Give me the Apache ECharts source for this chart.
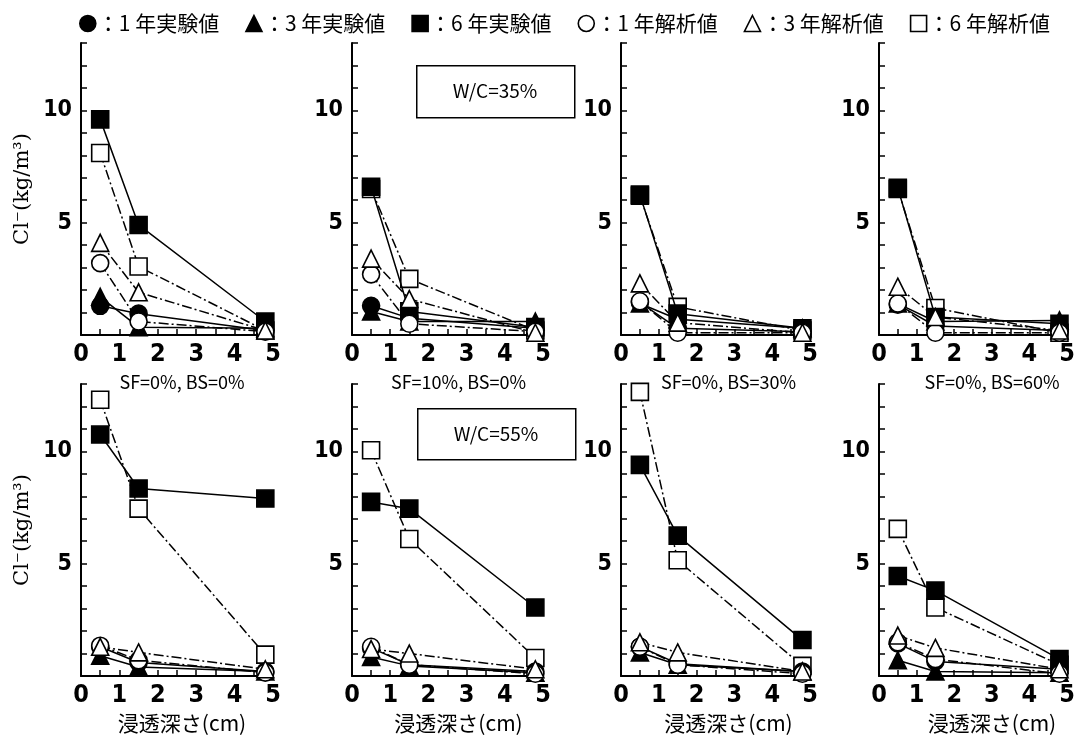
<!DOCTYPE html>
<html><head><meta charset="utf-8">
<script src="https://cdn.jsdelivr.net/npm/echarts@6/dist/echarts.min.js"></script>
<style>html,body{margin:0;padding:0;background:#fff}#c{width:1083px;height:737px}</style>
</head><body><div id="c"></div>
<script>
// ---- data ----
const depthX = [0.5, 1.5, 4.8];
const panelTitles = ['SF=0%, BS=0%', 'SF=10%, BS=0%', 'SF=0%, BS=30%', 'SF=0%, BS=60%',
                     'SF=0%, BS=0%', 'SF=10%, BS=0%', 'SF=0%, BS=30%', 'SF=0%, BS=60%'];
const xTitle = '浸透深さ(cm)';
const yTitle = 'Cl⁻(kg/m³)';
const wcLabels = ['W/C=35%', 'W/C=55%'];
const xTickLabels = ['0', '1', '2', '3', '4', '5'];
const yTickLabels = ['5', '10'];
const seriesNames = ['1 年実験値', '3 年実験値', '6 年実験値', '1 年解析値', '3 年解析値', '6 年解析値'];
// values per panel (panels 1-4: W/C=35%, panels 5-8: W/C=55%), at depths 0.5, 1.5, 4.8 cm
const exp1 = [[1.3,0.95,0.2],[1.3,0.75,0.3],[1.45,0.3,0.15],[1.35,0.4,0.2],[1.3,0.6,0.2],[1.25,0.5,0.2],[1.3,0.55,0.2],[1.45,0.65,0.3]];
const exp3 = [[1.7,0.35,0.3],[1.05,0.6,0.6],[1.4,0.7,0.3],[1.4,0.6,0.65],[0.9,0.4,0.2],[0.85,0.45,0.15],[1.05,0.5,0.2],[0.7,0.2,0.15]];
const exp6 = [[9.6,4.9,0.6],[6.6,1.05,0.35],[6.25,0.95,0.3],[6.55,0.8,0.5],[10.75,8.35,7.9],[7.75,7.45,3.05],[9.4,6.25,1.6],[4.45,3.8,0.75]];
const ana1 = [[3.2,0.6,0.15],[2.7,0.5,0.15],[1.5,0.1,0.1],[1.4,0.1,0.1],[1.35,0.7,0.15],[1.3,0.5,0.1],[1.3,0.5,0.1],[1.5,0.75,0.1]];
const ana3 = [[4.1,1.9,0.2],[3.4,1.6,0.1],[2.3,0.55,0.1],[2.15,0.8,0.2],[1.3,1.05,0.3],[1.2,1.0,0.3],[1.5,1.05,0.2],[1.8,1.25,0.3]];
const ana6 = [[8.1,3.05,0.2],[6.5,2.5,0.2],[6.2,1.25,0.2],[6.5,1.2,0.1],[12.3,7.45,0.95],[10.05,6.1,0.8],[12.65,5.15,0.45],[6.55,3.05,0.5]];

// ---- layout / styles ----
const lefts = [81, 352, 621, 879];
const widths = [192, 191, 189, 188];
const tops = [43, 384];
const H = 292;
const nameShift = [10, 22, 26, 38];
const numFont = "'DejaVu Sans Condensed', sans-serif";
const jpFont = 'Noto Sans CJK JP';

const seriesDefs = [
  {name: seriesNames[5], data: ana6, symbol: 'rect', filled: false, z: 2},
  {name: seriesNames[2], data: exp6, symbol: 'rect', filled: true, z: 3},
  {name: seriesNames[0], data: exp1, symbol: 'circle', filled: true, z: 4},
  {name: seriesNames[1], data: exp3, symbol: 'triangle', filled: true, z: 4},
  {name: seriesNames[3], data: ana1, symbol: 'circle', filled: false, z: 5},
  {name: seriesNames[4], data: ana3, symbol: 'triangle', filled: false, z: 5}
];

const grids = [], xAxes = [], yAxes = [], series = [];
for (let p = 0; p < 8; p++) {
  const r = Math.floor(p / 4), c = p % 4;
  grids.push({left: lefts[c], top: tops[r], width: widths[c], height: H});
  xAxes.push({
    type: 'value', gridIndex: p, min: 0, max: 5, interval: 0.5,
    name: r === 0 ? panelTitles[p] : xTitle,
    nameLocation: 'middle', nameGap: r === 0 ? 38 : 37,
    nameTextStyle: {fontFamily: jpFont, fontSize: r === 0 ? 18 : 21, color: '#000',
      padding: [0, 0, 0, nameShift[c]]},
    axisLine: {lineStyle: {color: '#000', width: 2}},
    axisTick: {inside: true, length: 6, lineStyle: {color: '#000', width: 1.5}},
    axisLabel: {color: '#000', fontFamily: numFont, fontWeight: 'bold', fontSize: 25, margin: 7,
      formatter: v => (Math.abs(v - Math.round(v)) < 1e-6 ? xTickLabels[Math.round(v)] : '')},
    splitLine: {show: false}
  });
  yAxes.push({
    type: 'value', gridIndex: p, min: 0, max: 13, interval: 1,
    name: c === 0 ? yTitle : '',
    nameLocation: 'middle', nameGap: 48,
    nameTextStyle: {fontFamily: 'DejaVu Serif', fontSize: 21, color: '#000'},
    axisLine: {lineStyle: {color: '#000', width: 2}},
    axisTick: {inside: true, length: 6, lineStyle: {color: '#000', width: 1.5}},
    axisLabel: {color: '#000', fontFamily: numFont, fontWeight: 'bold', fontSize: 23, margin: 9,
      formatter: v => (v === 5 ? yTickLabels[0] : v === 10 ? yTickLabels[1] : '')},
    splitLine: {show: false}
  });
  seriesDefs.forEach(d => {
    series.push({
      name: d.name, type: 'line', xAxisIndex: p, yAxisIndex: p, z: d.z,
      data: d.data[p].map((v, i) => [depthX[i], v]),
      symbol: d.symbol, symbolSize: 17,
      lineStyle: {color: '#000', width: 1.5, type: d.filled ? 'solid' : [10, 3, 2, 3]},
      itemStyle: {color: d.filled ? '#000' : '#fff', borderColor: '#000', borderWidth: 1.6},
      emphasis: {disabled: true},
      animation: false
    });
  });
}

const legendOrder = [
  {name: seriesNames[0], icon: 'circle', filled: true},
  {name: seriesNames[1], icon: 'triangle', filled: true},
  {name: seriesNames[2], icon: 'rect', filled: true},
  {name: seriesNames[3], icon: 'circle', filled: false},
  {name: seriesNames[4], icon: 'triangle', filled: false},
  {name: seriesNames[5], icon: 'rect', filled: false}
];

const option = {
  backgroundColor: '#fff',
  animation: false,
  legend: {
    top: 8, left: 74, itemGap: 26, itemWidth: 16, itemHeight: 16,
    selectedMode: false,
    textStyle: {fontFamily: jpFont, fontSize: 21, color: '#000', width: 132, padding: [0, 0, 0, -3]},
    formatter: n => '：' + n,
    data: legendOrder.map(l => ({
      name: l.name, icon: l.icon,
      itemStyle: {color: l.filled ? '#000' : '#fff', borderColor: '#000', borderWidth: 1.6}
    }))
  },
  grid: grids, xAxis: xAxes, yAxis: yAxes, series: series,
  graphic: [
    {type: 'rect', left: 416, top: 65, shape: {width: 158, height: 52},
      style: {fill: '#fff', stroke: '#000', lineWidth: 1.5}},
    {type: 'text', x: 495, y: 91, style: {text: wcLabels[0], fontFamily: jpFont, fontSize: 19, fill: '#000', align: 'center', verticalAlign: 'middle'}},
    {type: 'rect', left: 417, top: 408, shape: {width: 158, height: 51},
      style: {fill: '#fff', stroke: '#000', lineWidth: 1.5}},
    {type: 'text', x: 496, y: 434, style: {text: wcLabels[1], fontFamily: jpFont, fontSize: 19, fill: '#000', align: 'center', verticalAlign: 'middle'}}
  ]
};
const chart = echarts.init(document.getElementById('c'), null, {renderer: 'canvas'});
chart.setOption(option);
</script></body></html>
